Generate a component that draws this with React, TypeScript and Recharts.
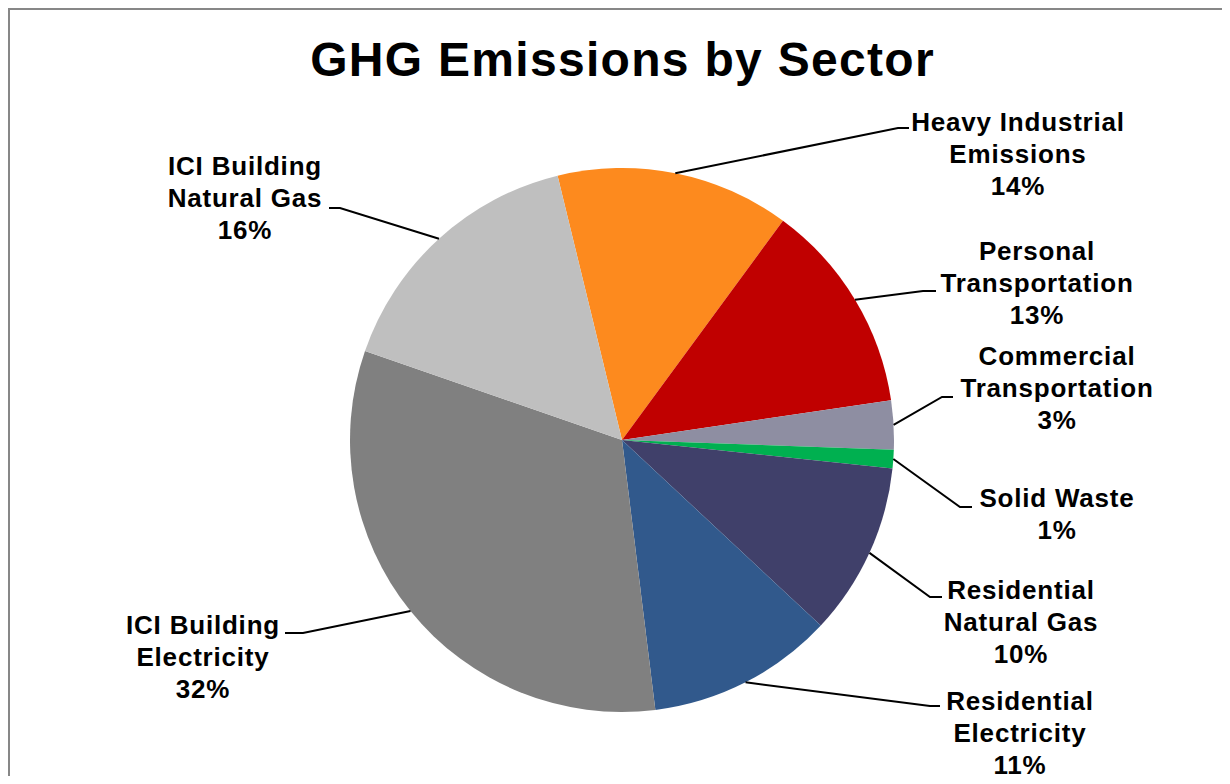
import React from 'react'
import { PieChart, Pie, Cell } from 'recharts'

// sector names, split the way the labels wrap
const sectors = [
  ['Heavy Industrial', 'Emissions'],
  ['Personal', 'Transportation'],
  ['Commercial', 'Transportation'],
  ['Solid Waste'],
  ['Residential', 'Natural Gas'],
  ['Residential', 'Electricity'],
  ['ICI Building', 'Electricity'],
  ['ICI Building', 'Natural Gas'],
]
const shares = [13.9, 12.6, 2.9, 1.1, 10.3, 11.1, 32.3, 15.9]
const colors = ['#FD8A1E', '#C00000', '#8E8EA2', '#00B050', '#40406A', '#31598C', '#808080', '#BFBFBF']

// label placement: text centre x, first baseline y, elbow x, elbow y, line end x
const labelSpots = [
  [1018, 131, 898, 128, 909],
  [1037, 260, 923, 291, 936],
  [1057, 365, 942, 397, 953],
  [1057, 507, 960, 507, 972],
  [1021, 599, 930, 597, 942],
  [1020, 710, 930, 706, 940],
  [203, 634, 303, 633, 285],
  [245, 175, 340, 208, 329],
]

const data = sectors.map((s, i) => ({ name: s.join(' '), value: shares[i] }))

const FONT = '"Liberation Sans", Arial, sans-serif'

const renderLabel = (props: any) => {
  const { cx, cy, midAngle, outerRadius, index, value } = props
  const rad = Math.PI / 180
  const sx = cx + outerRadius * Math.cos(-midAngle * rad)
  const sy = cy + outerRadius * Math.sin(-midAngle * rad)
  const [tx, ty, ex, ey, lx] = labelSpots[index]
  const lines = [...sectors[index], `${Math.round(value)}%`]
  return (
    <g key={`lbl-${index}`}>
      <polyline points={`${sx},${sy} ${ex},${ey} ${lx},${ey}`} fill="none" stroke="#000" strokeWidth={2} />
      <text textAnchor="middle" fontFamily={FONT} fontWeight="bold" fontSize={26} letterSpacing={0.8} fill="#000">
        {lines.map((l, i) => (
          <tspan key={i} x={tx} y={ty + i * 32}>{l}</tspan>
        ))}
      </text>
    </g>
  )
}

const App = () => {
  return (
    <div style={{ position: 'relative', margin: -8, width: 1230, height: 784, overflow: 'hidden', background: '#fff' }}>
      <div
        style={{
          position: 'absolute',
          left: 7,
          top: 7,
          width: 1300,
          height: 900,
          border: '3px solid #878787',
          boxSizing: 'border-box',
        }}
      />
      <div
        style={{
          position: 'absolute',
          left: 0,
          width: 1245,
          top: 36,
          textAlign: 'center',
          fontFamily: FONT,
          fontWeight: 'bold',
          fontSize: 48,
          lineHeight: '48px',
          letterSpacing: 1.3,
          color: '#000',
        }}
      >
        GHG Emissions by Sector
      </div>
      <div style={{ position: 'absolute', left: 0, top: 0 }}>
        <PieChart width={1230} height={784} margin={{ top: 0, right: 0, bottom: 0, left: 0 }}>
          <Pie
            data={data}
            dataKey="value"
            nameKey="name"
            cx={622}
            cy={440}
            outerRadius={272}
            startAngle={103.7}
            endAngle={-256.3}
            stroke="none"
            label={renderLabel}
            labelLine={false}
            isAnimationActive={false}
          >
            {data.map((d, i) => (
              <Cell key={d.name} fill={colors[i]} />
            ))}
          </Pie>
        </PieChart>
      </div>
    </div>
  )
}

export default App
